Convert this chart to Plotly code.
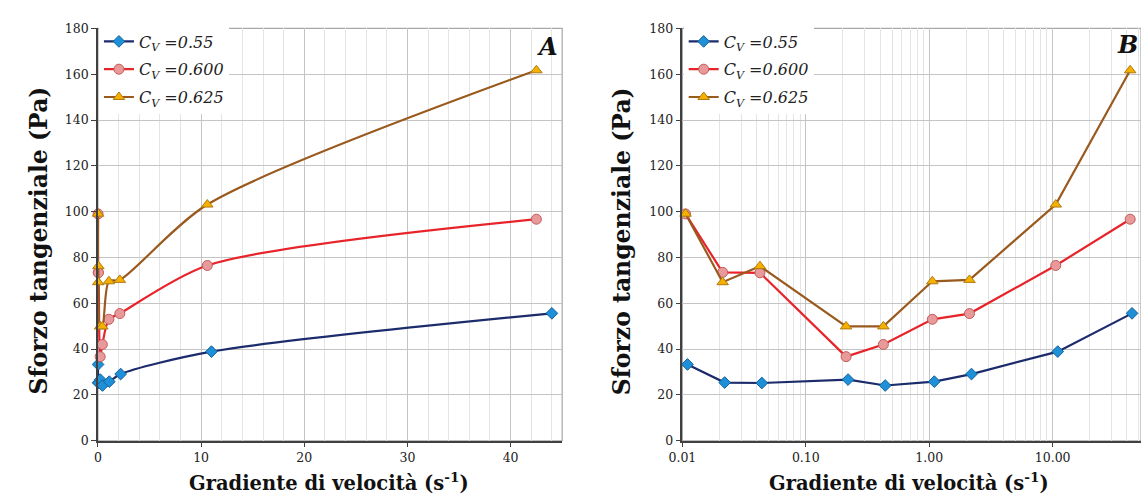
import numpy as np
import plotly.graph_objects as go

# ---- data ----
x_055 = [0.011, 0.022, 0.044, 0.22, 0.44, 1.1, 2.2, 11.0, 44.0]
y_055 = [33.3, 25.4, 25.2, 26.7, 24.1, 25.8, 29.1, 38.9, 55.6]

x_060 = [0.0106, 0.0212, 0.0425, 0.212, 0.425, 1.06, 2.12, 10.6, 42.5]
y_060 = [99.0, 73.5, 73.3, 36.7, 42.0, 53.0, 55.5, 76.5, 96.7]

x_0625 = [0.0106, 0.0212, 0.0425, 0.212, 0.425, 1.06, 2.12, 10.6, 42.5]
y_0625 = [99.1, 69.2, 76.2, 49.9, 49.9, 69.6, 70.2, 103.1, 161.7]

names = ["<i>C<sub>V</sub> =0.55</i>", "<i>C<sub>V</sub> =0.600</i>", "<i>C<sub>V</sub> =0.625</i>"]
log_tickvals = [0.01, 0.1, 1, 10]
log_ticktext = ["0.01", "0.10", "1.00", "10.00"]

W, H = 1141, 504
SERIF = "DejaVu Serif"

styles = [
    dict(line=dict(color="#1b2b6b", width=2.2),
         marker=dict(symbol="diamond", size=9, color="#1e90d8", line=dict(color="#16609a", width=1))),
    dict(line=dict(color="#e8242b", width=2.2),
         marker=dict(symbol="circle", size=10, color="#e89a9a", line=dict(color="#c45a5a", width=1))),
    dict(line=dict(color="#9a5a1e", width=2.2),
         marker=dict(symbol="triangle-up", size=10, color="#f5b000", line=dict(color="#b07a10", width=1))),
]
series = [(x_055, y_055), (x_060, y_060), (x_0625, y_0625)]

fig = go.Figure()
for i, (xs, ys) in enumerate(series):
    st = styles[i]
    fig.add_trace(go.Scatter(
        x=xs, y=ys, mode="lines+markers", name=names[i], legendgroup="a%d" % i,
        line=dict(color=st["line"]["color"], width=st["line"]["width"], shape="spline", smoothing=0.8),
        marker=st["marker"], xaxis="x", yaxis="y", legend="legend", cliponaxis=False))
for i, (xs, ys) in enumerate(series):
    st = styles[i]
    fig.add_trace(go.Scatter(
        x=xs, y=ys, mode="lines+markers", name=names[i], legendgroup="b%d" % i,
        line=dict(color=st["line"]["color"], width=st["line"]["width"]),
        marker=st["marker"], xaxis="x2", yaxis="y2", legend="legend2", cliponaxis=False))

# pixel -> paper helpers
def px(x):
    return x / W
def py(y):
    return (H - y) / H

ydom = [py(446), py(21)]
axis_common = dict(
    showline=True, linecolor="#404040", linewidth=1.5,
    ticks="outside", ticklen=5, tickcolor="#404040", tickwidth=1.2,
    tickfont=dict(family=SERIF, size=12.5, color="#222222"),
    zeroline=False,
)

leg_common = dict(xanchor="left", yanchor="top", bgcolor="white", borderwidth=0,
                  itemwidth=30, tracegroupgap=4,
                  font=dict(family=SERIF, size=16, color="#222222"))

fig.update_layout(
    width=W, height=H,
    margin=dict(l=0, r=0, t=0, b=0),
    paper_bgcolor="white", plot_bgcolor="white",
    font=dict(family=SERIF),
    showlegend=True,
    xaxis=dict(domain=[px(85), px(555)], range=[0, 45], dtick=10,
               showgrid=True, gridcolor="#c4c4c4", gridwidth=1,
               minor=dict(dtick=2, showgrid=True, gridcolor="#e4e4e4", gridwidth=1),
               anchor="y", **axis_common),
    yaxis=dict(domain=ydom, range=[0, 180], dtick=20,
               showgrid=True, gridcolor="#c4c4c4", gridwidth=1,
               anchor="x", **axis_common),
    xaxis2=dict(domain=[px(676.7), 1.0], type="log", range=[-2, np.log10(52)],
                tickvals=log_tickvals, ticktext=log_ticktext,
                showgrid=True, gridcolor="#c4c4c4", gridwidth=1,
                minor=dict(dtick="D1", showgrid=True, gridcolor="#e4e4e4", gridwidth=1),
                anchor="y2", **axis_common),
    yaxis2=dict(domain=ydom, range=[0, 180], dtick=20,
                showgrid=True, gridcolor="#c4c4c4", gridwidth=1,
                anchor="x2", **axis_common),
    legend=dict(x=px(86), y=py(17), **leg_common),
    legend2=dict(x=px(678), y=py(17), **leg_common),
)

# plot-area borders (top/right)
for xr, yr in (("x domain", "y domain"), ("x2 domain", "y2 domain")):
    fig.add_shape(type="rect", xref=xr, yref=yr, x0=0, x1=1, y0=0, y1=1,
                  line=dict(color="#a8a8a8", width=1.2), layer="below")

ann = []
for cx in (319, 906):
    ann.append(dict(text="<b>Gradiente di velocità (s<sup>-1</sup>)</b>",
                    x=px(cx), y=py(489), xref="paper", yref="paper",
                    showarrow=False, xanchor="center", yanchor="middle",
                    font=dict(family=SERIF, size=19.5, color="#111111")))
for cx in (25, 615):
    ann.append(dict(text="<b>Sforzo tangenziale (Pa)</b>",
                    x=px(cx), y=py(240), xref="paper", yref="paper",
                    showarrow=False, xanchor="center", yanchor="middle", textangle=-90,
                    font=dict(family=SERIF, size=23.5, color="#111111")))
ann.append(dict(text="<b><i>A</i></b>", x=px(553), y=py(40), xref="paper", yref="paper",
                showarrow=False, xanchor="right", yanchor="middle",
                font=dict(family=SERIF, size=24, color="#111111")))
ann.append(dict(text="<b><i>B</i></b>", x=px(1140), y=py(38), xref="paper", yref="paper",
                showarrow=False, xanchor="right", yanchor="middle",
                font=dict(family=SERIF, size=24, color="#111111")))
fig.update_layout(annotations=ann)

fig.write_html("out.html")
